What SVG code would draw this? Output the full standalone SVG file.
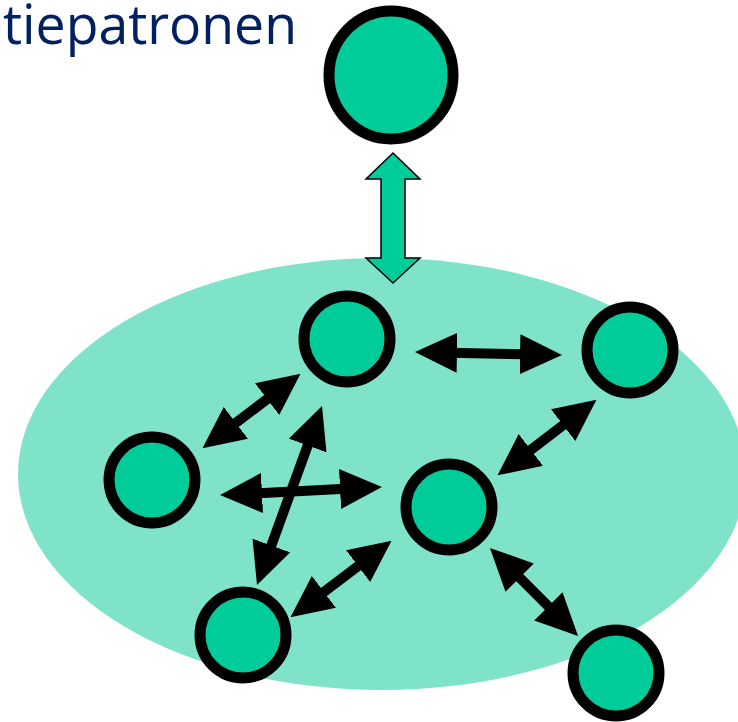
<svg xmlns="http://www.w3.org/2000/svg" width="738" height="722" viewBox="0 0 738 722">
<style>
.node{fill:#00CC99;stroke:#000;stroke-width:11}
.conn{stroke:#000;stroke-width:10;fill:none;marker-start:url(#head);marker-end:url(#head)}
.title{font-family:"Open Sans","Noto Sans",sans-serif;font-size:55px;fill:#002060}
</style>
<defs>
<marker id="head" viewBox="0 0 42 40" markerWidth="42" markerHeight="40" refX="20" refY="20" markerUnits="userSpaceOnUse" orient="auto-start-reverse">
<path d="M0,0 L42,20 L0,40 z" fill="#000"/>
</marker>
</defs>
<rect width="738" height="722" fill="#fff"/>
<text class="title" x="3" y="44" textLength="294" lengthAdjust="spacingAndGlyphs">tiepatronen</text>
<g id="group-area">
<ellipse cx="382" cy="474" rx="364" ry="216" fill="#7FE3C9"/>
</g>
<g id="node-top">
<ellipse class="node" cx="391" cy="75" rx="62" ry="64"/>
</g>
<g id="big-arrow">
<path d="M393,153 L420,179 L405,179 L405,258 L420,258 L393,283 L366,258 L381,258 L381,179 L366,179 z" fill="#00CC99" stroke="#000" stroke-width="1.5"/>
</g>
<g id="node-a"><circle class="node" cx="347" cy="339" r="43"/></g>
<g id="node-b"><circle class="node" cx="630" cy="350" r="43"/></g>
<g id="node-c"><circle class="node" cx="152" cy="480" r="43"/></g>
<g id="node-d"><circle class="node" cx="449" cy="507" r="43"/></g>
<g id="node-e"><circle class="node" cx="243" cy="635" r="43"/></g>
<g id="node-f"><circle class="node" cx="616" cy="673" r="43"/></g>
<g id="connectors">
<line class="conn" x1="437" y1="352.4" x2="540" y2="354.6"/>
<line class="conn" x1="283" y1="387" x2="220" y2="435"/>
<line class="conn" x1="579" y1="413" x2="515" y2="462"/>
<line class="conn" x1="242" y1="494" x2="360" y2="488"/>
<line class="conn" x1="314.5" y1="426.7" x2="264.5" y2="564.3"/>
<line class="conn" x1="374" y1="554" x2="308" y2="604"/>
<line class="conn" x1="505.5" y1="563.5" x2="562.5" y2="620.5"/>
</g>
</svg>
